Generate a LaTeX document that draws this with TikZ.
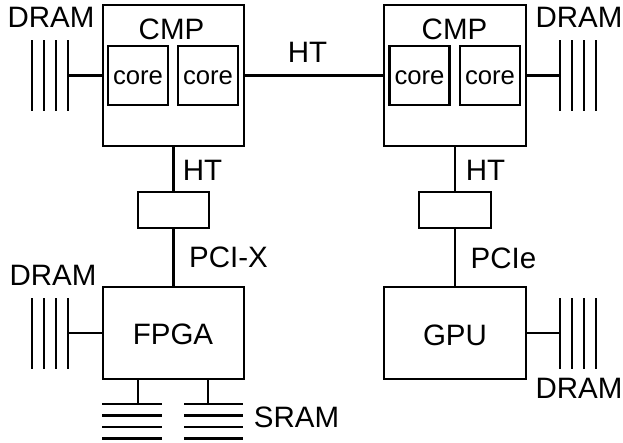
\documentclass[tikz,border=0pt]{standalone}
\usepackage{fontspec}
\setmainfont{Liberation Sans}
\begin{document}
\begin{tikzpicture}[x=1pt,y=-1pt,line width=2.8pt,
  blk/.style={draw,rectangle,inner sep=0pt,outer sep=0pt},
  lbl/.style={inner sep=0pt,anchor=base,font=\fontsize{29.5}{30}\selectfont},
  corelbl/.style={inner sep=0pt,anchor=base,font=\fontsize{25.7}{26}\selectfont},
  bar/.style={line width=2.8pt}]
\useasboundingbox (0,0) rectangle (623,442);
% CMP boxes
\node[blk,minimum width=141pt,minimum height=141pt] (cmpL) at (173.5,75.5) {};
\node[blk,minimum width=142pt,minimum height=141pt] (cmpR) at (455,75.5) {};
% cores
\node[blk,minimum width=60pt,minimum height=59pt] (coreL1) at (138,75.5) {};
\node[blk,minimum width=60pt,minimum height=59pt] (coreL2) at (208,75.5) {};
\node[blk,minimum width=60pt,minimum height=59pt] (coreR1) at (419.5,75.5) {};
\node[blk,minimum width=60pt,minimum height=59pt] (coreR2) at (490,75.5) {};
\node[corelbl] (tL1) at (138,84) {core};
\node[corelbl] (tL2) at (208,84) {core};
\node[corelbl] (tR1) at (419.5,84) {core};
\node[corelbl] (tR2) at (490,84) {core};
% bridges
\node[blk,minimum width=71pt,minimum height=36pt] (brL) at (173.5,210) {};
\node[blk,minimum width=72pt,minimum height=36pt] (brR) at (455,210) {};
% FPGA and GPU
\node[blk,minimum width=141pt,minimum height=92pt] (fpga) at (173.5,333) {};
\node[blk,minimum width=142pt,minimum height=92pt] (gpu) at (455,333) {};
% labels
\node[lbl] (lDramTL) at (51,27) {DRAM};
\node[lbl] (lCmpL) at (171.5,39) {CMP};
\node[lbl] (lHTtop) at (307.5,62) {HT};
\node[lbl] (lCmpR) at (454.5,39) {CMP};
\node[lbl] (lDramTR) at (579,27) {DRAM};
\node[lbl] (lHTL) at (202.5,180) {HT};
\node[lbl] (lHTR) at (485.5,180) {HT};
\node[lbl] (lPCIX) at (228.5,267) {PCI-X};
\node[lbl] (lPCIe) at (503.5,268) {PCIe};
\node[lbl] (lDramML) at (53,285) {DRAM};
\node[lbl] (lFPGA) at (173,344) {FPGA};
\node[lbl] (lGPU) at (455,345) {GPU};
\node[lbl] (lSRAM) at (296.5,427) {SRAM};
\node[lbl] (lDramBR) at (579,398) {DRAM};
% DRAM bars
\coordinate (dTL) at (68,75.5);
\coordinate (dTR) at (560,75.5);
\coordinate (dML) at (68,333);
\coordinate (dBR) at (560,333);
\foreach \x in {32,44,56,68} \draw[bar] (\x,40) -- (\x,111);
\foreach \x in {560,572,584,596} \draw[bar] (\x,40) -- (\x,111);
\foreach \x in {32,44,56,68} \draw[bar] (\x,298) -- (\x,369);
\foreach \x in {560,572,584,596} \draw[bar] (\x,298) -- (\x,369);
% SRAM bars
\coordinate (s1) at (138,404);
\coordinate (s2) at (208,404);
\foreach \y in {404,415.5,427,438.5} {
  \draw[bar] (102,\y) -- (162,\y);
  \draw[bar] (184,\y) -- (243,\y);
}
% connectors
\draw (dTL) -- (cmpL.west);
\draw (cmpR.east) -- (dTR);
\draw (cmpL.east) -- (cmpR.west);
\draw (cmpL.south) -- (brL.north);
\draw (brL.south) -- (fpga.north);
\draw (cmpR.south) -- (brR.north);
\draw (brR.south) -- (gpu.north);
\draw (dML) -- (fpga.west);
\draw (gpu.east) -- (dBR);
\draw (fpga.south -| s1) -- (s1);
\draw (fpga.south -| s2) -- (s2);
\end{tikzpicture}
\end{document}
